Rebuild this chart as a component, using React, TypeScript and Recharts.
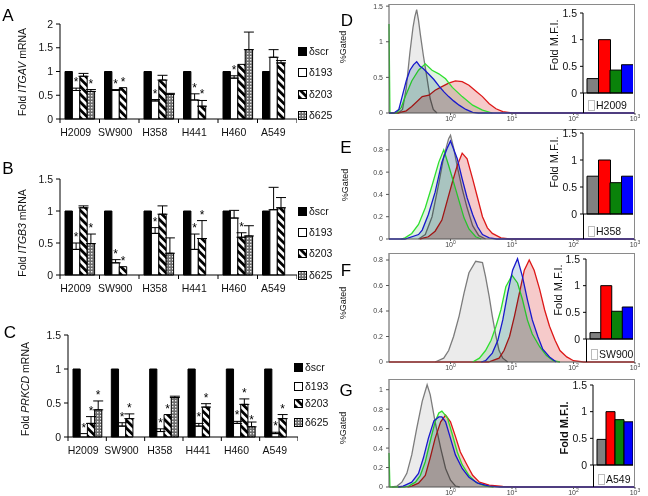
import React from 'react';
import {
  BarChart,
  Bar,
  XAxis,
  YAxis,
  ErrorBar,
  LabelList,
  Cell,
  AreaChart,
  Area,
} from 'recharts';

const FONT = '"Liberation Sans", Arial, sans-serif';

// ---- A–C : fold mRNA per cell line ----
const cellLines = ['H2009', 'SW900', 'H358', 'H441', 'H460', 'A549'];
const siNames = ['δscr', 'δ193', 'δ203', 'δ625'];

const itgavScr = [1, 1, 1, 1, 1, 1];
const itgav193 = [0.6, 0.6, 0.38, 0.4, 0.86, 1.3];
const itgav193Err = [0.05, 0.02, 0.03, 0.13, 0.05, 0.16];
const itgav203 = [0.9, 0.66, 0.82, 0.27, 1.15, 1.18];
const itgav203Err = [0.06, 0, 0.1, 0.12, 0, 0.05];
const itgav625 = [0.58, null, 0.52, null, 1.46, null];
const itgav625Err = [0.04, 0, 0.02, 0, 0.37, 0];
const itgavStar193 = [1, 1, 1, 1, 1, 0];
const itgavStar203 = [0, 1, 0, 1, 0, 0];
const itgavStar625 = [1, 0, 1, 0, 0, 0];

const itgb3Scr = [1, 1, 1, 1, 1, 1];
const itgb3193 = [0.4, 0.19, 0.65, 0.4, 0.89, 1.02];
const itgb3193Err = [0.1, 0.05, 0.09, 0.24, 0.12, 0.35];
const itgb3203 = [1.05, 0.13, 0.95, 0.57, 0.59, 1.05];
const itgb3203Err = [0.03, 0, 0.13, 0.28, 0.07, 0.16];
const itgb3625 = [0.49, null, 0.34, null, 0.61, null];
const itgb3625Err = [0.15, 0, 0.24, 0, 0.16, 0];
const itgb3Star193 = [1, 1, 1, 1, 0, 0];
const itgb3Star203 = [0, 1, 0, 1, 1, 0];
const itgb3Star625 = [1, 0, 1, 0, 0, 0];

const prkcdScr = [1, 1, 1, 1, 1, 1];
const prkcd193 = [0.05, 0.16, 0.08, 0.16, 0.2, 0.05];
const prkcd193Err = [0, 0.05, 0.04, 0.04, 0.03, 0.02];
const prkcd203 = [0.2, 0.27, 0.33, 0.44, 0.48, 0.27];
const prkcd203Err = [0.1, 0.07, 0, 0.05, 0.08, 0.06];
const prkcd625 = [0.4, null, 0.58, null, 0.15, null];
const prkcd625Err = [0.13, 0, 0.02, 0, 0.07, 0];
const prkcdStar193 = [1, 1, 1, 1, 1, 1];
const prkcdStar203 = [1, 1, 1, 1, 1, 1];
const prkcdStar625 = [1, 0, 1, 0, 1, 0];

// ---- D–G : flow histograms, [log10 intensity, %gated] ----
const h2009Gray = [[-1, 0], [-0.85, 0], [-0.78, 0.05], [-0.72, 0.35], [-0.66, 0.85], [-0.61, 1.2], [-0.58, 1.35], [-0.55, 1.45], [-0.52, 1.3], [-0.49, 1.1], [-0.44, 0.8], [-0.38, 0.48], [-0.33, 0.2], [-0.28, 0.05], [-0.22, 0]];
const h2009Red = [[-1, 0], [-0.85, 0], [-0.72, 0.03], [-0.63, 0.09], [-0.46, 0.23], [-0.35, 0.25], [-0.25, 0.32], [-0.14, 0.37], [-0.03, 0.42], [0.08, 0.45], [0.19, 0.44], [0.3, 0.39], [0.41, 0.31], [0.52, 0.23], [0.63, 0.13], [0.74, 0.06], [0.85, 0.02], [1.01, 0], [3, 0]];
const h2009Green = [[-1, 1.25], [-0.985, 0], [-0.88, 0], [-0.8, 0.08], [-0.74, 0.22], [-0.63, 0.45], [-0.52, 0.6], [-0.41, 0.69], [-0.3, 0.6], [-0.19, 0.55], [-0.08, 0.48], [0.03, 0.36], [0.19, 0.23], [0.36, 0.11], [0.52, 0.04], [0.68, 0]];
const h2009Blue = [[-1, 0], [-0.92, 0], [-0.84, 0.05], [-0.78, 0.25], [-0.72, 0.45], [-0.66, 0.6], [-0.6, 0.68], [-0.55, 0.72], [-0.5, 0.66], [-0.44, 0.62], [-0.36, 0.55], [-0.27, 0.47], [-0.19, 0.38], [-0.11, 0.3], [-0.03, 0.23], [0.05, 0.17], [0.14, 0.11], [0.25, 0.05], [0.36, 0.01], [0.45, 0], [3, 0]];

const h358Gray = [[-0.52, 0], [-0.41, 0.04], [-0.3, 0.2], [-0.19, 0.5], [-0.11, 0.74], [-0.03, 0.9], [0, 0.93], [0.05, 0.82], [0.11, 0.65], [0.19, 0.45], [0.27, 0.28], [0.36, 0.12], [0.46, 0.03], [0.57, 0]];
const h358Red = [[-0.5, 0], [-0.36, 0.02], [-0.25, 0.07], [-0.14, 0.17], [-0.055, 0.34], [0.03, 0.51], [0.11, 0.66], [0.19, 0.77], [0.27, 0.72], [0.36, 0.54], [0.44, 0.37], [0.52, 0.2], [0.6, 0.1], [0.68, 0.05], [0.82, 0.01], [0.96, 0], [3, 0]];
const h358Green = [[-0.8, 0], [-0.74, 0.01], [-0.63, 0.05], [-0.52, 0.13], [-0.41, 0.28], [-0.3, 0.48], [-0.19, 0.69], [-0.11, 0.8], [-0.03, 0.66], [0.05, 0.51], [0.14, 0.34], [0.22, 0.19], [0.3, 0.09], [0.41, 0.02], [0.5, 0]];
const h358Blue = [[-1, 0], [-0.74, 0], [-0.52, 0.04], [-0.46, 0.08], [-0.36, 0.22], [-0.25, 0.42], [-0.14, 0.69], [-0.05, 0.82], [0, 0.88], [0.11, 0.72], [0.19, 0.54], [0.27, 0.37], [0.36, 0.22], [0.44, 0.11], [0.52, 0.04], [0.63, 0.01], [0.75, 0], [3, 0]];

const sw900Gray = [[-0.25, 0], [-0.11, 0.03], [-0.03, 0.09], [0.05, 0.2], [0.14, 0.36], [0.22, 0.54], [0.3, 0.7], [0.41, 0.79], [0.52, 0.78], [0.57, 0.67], [0.63, 0.51], [0.68, 0.36], [0.74, 0.2], [0.79, 0.09], [0.85, 0.03], [0.93, 0]];
const sw900Red = [[-1, 0], [0.62, 0], [0.68, 0.01], [0.79, 0.03], [0.87, 0.09], [0.96, 0.2], [1.04, 0.36], [1.12, 0.54], [1.2, 0.72], [1.28, 0.8], [1.36, 0.72], [1.45, 0.57], [1.53, 0.41], [1.61, 0.28], [1.7, 0.17], [1.78, 0.09], [1.89, 0.04], [2.0, 0.01], [2.16, 0], [3, 0]];
const sw900Green = [[0.36, 0], [0.47, 0.03], [0.57, 0.09], [0.66, 0.17], [0.74, 0.28], [0.82, 0.41], [0.9, 0.59], [1.0, 0.68], [1.09, 0.62], [1.17, 0.49], [1.25, 0.33], [1.33, 0.22], [1.45, 0.12], [1.56, 0.05], [1.67, 0.01], [1.78, 0]];
const sw900Blue = [[0.5, 0], [0.57, 0.01], [0.68, 0.07], [0.77, 0.17], [0.85, 0.33], [0.93, 0.54], [1.01, 0.72], [1.09, 0.81], [1.17, 0.67], [1.25, 0.49], [1.33, 0.33], [1.42, 0.2], [1.5, 0.1], [1.61, 0.04], [1.72, 0]];

const a549Gray = [[-0.95, 0], [-0.87, 0.01], [-0.79, 0.05], [-0.71, 0.14], [-0.63, 0.33], [-0.55, 0.6], [-0.46, 0.88], [-0.38, 1.05], [-0.33, 0.95], [-0.25, 0.67], [-0.16, 0.4], [-0.08, 0.19], [0, 0.07], [0.08, 0.01], [0.15, 0]];
const a549Red = [[-0.7, 0], [-0.63, 0.01], [-0.52, 0.04], [-0.41, 0.12], [-0.33, 0.3], [-0.25, 0.5], [-0.16, 0.67], [-0.08, 0.74], [0, 0.67], [0.08, 0.52], [0.16, 0.36], [0.25, 0.25], [0.36, 0.12], [0.47, 0.05], [0.63, 0.02], [0.85, 0.005], [1.1, 0], [3, 0]];
const a549Green = [[-1, 0.35], [-0.985, 0], [-0.75, 0], [-0.68, 0.01], [-0.57, 0.05], [-0.49, 0.12], [-0.41, 0.26], [-0.33, 0.47], [-0.25, 0.67], [-0.19, 0.76], [-0.14, 0.78], [-0.05, 0.71], [0.03, 0.54], [0.11, 0.36], [0.19, 0.23], [0.3, 0.12], [0.41, 0.05], [0.57, 0.01], [0.7, 0]];
const a549Blue = [[-0.85, 0], [-0.77, 0.01], [-0.63, 0.05], [-0.52, 0.14], [-0.44, 0.3], [-0.36, 0.5], [-0.27, 0.68], [-0.19, 0.72], [-0.14, 0.72], [-0.08, 0.67], [0, 0.5], [0.08, 0.33], [0.19, 0.19], [0.3, 0.1], [0.44, 0.04], [0.63, 0.01], [0.8, 0], [3, 0]];

// inset fold M.F.I.: control, scr, 193, 203
const mfiKeys = ['ctrl', 'scr', 's193', 's203'];
const mfiColors = ['#808080', '#ff0000', '#0a820a', '#0000ff'];
const mfiH2009 = [0.27, 1.0, 0.43, 0.53];
const mfiH358 = [0.7, 1.0, 0.58, 0.7];
const mfiSW900 = [0.12, 1.0, 0.52, 0.6];
const mfiA549 = [0.48, 1.0, 0.85, 0.81];

const siFills = ['#000', '#fff', 'url(#stripe203)', 'url(#dots625)'];

function makeRows(scr: any[], v193: any[], e193: any[], v203: any[], e203: any[], v625: any[], e625: any[], s193: any[], s203: any[], s625: any[]) {
  return cellLines.map((cell, i) => ({
    cell,
    scr: scr[i],
    v193: v193[i],
    v203: v203[i],
    v625: v625[i],
    e193: v193[i] != null && e193[i] ? [0, e193[i]] : undefined,
    e203: v203[i] != null && e203[i] ? [0, e203[i]] : undefined,
    e625: v625[i] != null && e625[i] ? [0, e625[i]] : undefined,
    s193: s193[i],
    s203: s203[i],
    s625: s625[i],
  }));
}

function starContent(vals: any[], errs: any[]) {
  return (props: any) => {
    const vb = props.viewBox ?? props;
    const { x, y, width, height } = vb;
    const i = props.index;
    const v = vals[i];
    if (!props.value || !v || height == null) return null;
    const ppu = Math.abs(height) / v;
    const top = Math.min(y, y + height) - (errs[i] || 0) * ppu;
    return (
      <text x={x + width / 2} y={top - 2} textAnchor="middle" fontSize={12} fontFamily={FONT} fill="#000">
        *
      </text>
    );
  };
}

const CellTick = (props: any) => {
  const { x, y, payload, index, visibleTicksCount } = props;
  const half = payload?.offset ?? 0;
  return (
    <g>
      <text x={x - 4} y={y + 17} textAnchor="middle" fontSize={10.5} fontFamily={FONT} fill="#111">
        {payload.value}
      </text>
      {half ? <line x1={x - half} x2={x - half} y1={y} y2={y + 4} stroke="#000" /> : null}
      {half && index === visibleTicksCount - 1 ? (
        <line x1={x + half} x2={x + half} y1={y} y2={y + 4} stroke="#000" />
      ) : null}
    </g>
  );
};

function VLabel({ x, y, size = 10.5, bold = false, family = FONT, children }: any) {
  return (
    <div
      style={{
        position: 'absolute',
        left: x,
        top: y,
        transform: 'translate(-50%, -50%) rotate(-90deg)',
        whiteSpace: 'nowrap',
        fontFamily: family,
        fontSize: size,
        fontWeight: bold ? 'bold' : 'normal',
        color: '#111',
        lineHeight: 1,
      }}
    >
      {children}
    </div>
  );
}

function Letter({ x, y, text }: any) {
  return (
    <div style={{ position: 'absolute', left: x, top: y, transform: 'translate(-50%, -50%)', fontFamily: FONT, fontSize: 17, lineHeight: 1, color: '#000' }}>
      {text}
    </div>
  );
}

function SiLegend({ x, ys }: any) {
  return (
    <>
      {siNames.map((name, i) => (
        <div key={name} style={{ position: 'absolute', left: x, top: ys[i] - 6, height: 12, display: 'flex', alignItems: 'center', fontFamily: FONT, fontSize: 10.5, color: '#111' }}>
          <svg width={9} height={9} style={{ marginRight: 2 }}>
            <rect x={0.5} y={0.5} width={8} height={8} fill={siFills[i]} stroke="#000" />
          </svg>
          {name}
        </div>
      ))}
    </>
  );
}

function FoldChart({ rows, axisX, plotTop, plotBottom, plotRight, yMax, yTicks, vals, errs, barSize }: any) {
  const yw = 40;
  const mt = 8;
  return (
    <div style={{ position: 'absolute', left: 0, top: plotTop - mt }}>
      <BarChart
        width={plotRight}
        height={plotBottom - plotTop + mt + 26}
        data={rows}
        margin={{ top: mt, right: 0, left: axisX - yw, bottom: 0 }}
        barGap={0}
        barSize={barSize}
      >
        <XAxis dataKey="cell" interval={0} tickLine={false} tickSize={0} tickMargin={0} axisLine={{ stroke: '#000' }} tick={<CellTick />} height={26} />
        <YAxis
          domain={[0, yMax]}
          ticks={yTicks}
          interval={0}
          width={yw}
          tickSize={4}
          tickMargin={3}
          axisLine={{ stroke: '#000' }}
          tickLine={{ stroke: '#000' }}
          tick={{ fontSize: 10.5, fill: '#111', fontFamily: FONT }}
        />
        <Bar dataKey="scr" fill="#000" stroke="#000" strokeWidth={1} isAnimationActive={false} />
        <Bar dataKey="v193" fill="#fff" stroke="#000" strokeWidth={1} isAnimationActive={false}>
          <ErrorBar dataKey="e193" width={5} stroke="#000" strokeWidth={1} direction="y" />
          <LabelList dataKey="s193" content={starContent(vals[0], errs[0])} />
        </Bar>
        <Bar dataKey="v203" fill="url(#stripe203)" stroke="#000" strokeWidth={1} isAnimationActive={false}>
          <ErrorBar dataKey="e203" width={5} stroke="#000" strokeWidth={1} direction="y" />
          <LabelList dataKey="s203" content={starContent(vals[1], errs[1])} />
        </Bar>
        <Bar dataKey="v625" fill="url(#dots625)" stroke="#000" strokeWidth={1} isAnimationActive={false}>
          <ErrorBar dataKey="e625" width={5} stroke="#000" strokeWidth={1} direction="y" />
          <LabelList dataKey="s625" content={starContent(vals[2], errs[2])} />
        </Bar>
      </BarChart>
    </div>
  );
}

function mergeCurves(curves: Record<string, number[][]>) {
  const byX = new Map<number, any>();
  Object.entries(curves).forEach(([key, pts]) => {
    pts.forEach(([x, v]) => {
      const row = byX.get(x) ?? { x };
      row[key] = v;
      byX.set(x, row);
    });
  });
  return [...byX.values()].sort((a, b) => a.x - b.x);
}

const PowTick = (props: any) => {
  const { x, y, payload } = props;
  return (
    <text x={x} y={y + 6} textAnchor="middle" fontSize={7} fontFamily={FONT} fill="#444">
      10
      <tspan dy={-3} fontSize={5}>
        {payload.value}
      </tspan>
    </text>
  );
};

const curveStyle: Record<string, { stroke: string; fill: string }> = {
  gray: { stroke: '#7c7c7c', fill: '#ebebeb' },
  red: { stroke: '#dd1818', fill: '#f6caca' },
  green: { stroke: '#2ee02e', fill: '#e0f2e0' },
  blue: { stroke: '#1818cc', fill: '#d2e0ee' },
};
const curveOrder = ['gray', 'red', 'green', 'blue'];

function FlowChart({ plotTop, plotBottom, yMax, yTicks, curves }: any) {
  const rows = mergeCurves(curves);
  const mt = 4;
  return (
    <div className="flow" style={{ position: 'absolute', left: 350, top: plotTop - mt }}>
      <AreaChart width={290} height={plotBottom - plotTop + mt + 14} data={rows} margin={{ top: mt, right: 5, left: 0, bottom: 0 }}>
        <XAxis
          type="number"
          dataKey="x"
          domain={[-1, 3]}
          ticks={[0, 1, 2, 3]}
          tick={<PowTick />}
          tickSize={2}
          tickMargin={0}
          height={14}
          axisLine={{ stroke: '#555' }}
          tickLine={{ stroke: '#555' }}
        />
        <YAxis
          domain={[0, yMax]}
          ticks={yTicks}
          interval={0}
          width={39}
          tickSize={3}
          tickMargin={3}
          axisLine={{ stroke: '#555' }}
          tickLine={{ stroke: '#555' }}
          tick={{ fontSize: 7, fill: '#444', fontFamily: FONT }}
        />
        {curveOrder.map((k) => (
          <Area
            key={k}
            type="linear"
            dataKey={k}
            stroke={curveStyle[k].stroke}
            strokeWidth={1.3}
            fill={curveStyle[k].fill}
            fillOpacity={1}
            connectNulls
            dot={false}
            activeDot={false}
            isAnimationActive={false}
          />
        ))}
      </AreaChart>
      <div
        style={{
          position: 'absolute',
          left: 39,
          top: mt,
          width: 246,
          height: plotBottom - plotTop,
          border: '1px solid #8a8a8a',
          borderLeft: 'none',
          borderBottom: 'none',
          boxSizing: 'border-box',
          pointerEvents: 'none',
        }}
      />
    </div>
  );
}

function Inset({ values, axisX, top, zero, bottom, name, labelX, labelY, bold }: any) {
  const rows = mfiKeys.map((k, i) => ({ k, v: values[i] }));
  const yw = 30;
  const left = axisX - yw;
  const mt = 9;
  const xh = 8;
  return (
    <>
      <div style={{ position: 'absolute', left, top: top - mt }}>
        <BarChart width={633 - left} height={zero - top + mt + xh} data={rows} margin={{ top: mt, right: 0, left: 0, bottom: 0 }} barCategoryGap={0} barGap={0}>
          <XAxis dataKey="k" tick={false} tickLine={false} axisLine={{ stroke: '#000' }} height={xh} padding={{ left: 4, right: 0 }} />
          <YAxis
            domain={[0, 1.5]}
            ticks={[0, 0.5, 1, 1.5]}
            interval={0}
            width={yw}
            tickSize={3}
            tickMargin={3}
            axisLine={{ stroke: '#000' }}
            tickLine={{ stroke: '#000' }}
            tick={{ fontSize: 10.5, fill: '#111', fontFamily: FONT }}
          />
          <Bar dataKey="v" stroke="#000" strokeWidth={1} isAnimationActive={false}>
            {rows.map((r, i) => (
              <Cell key={r.k} fill={mfiColors[i]} />
            ))}
          </Bar>
        </BarChart>
      </div>
      <div style={{ position: 'absolute', left: axisX, top: zero, width: 1, height: bottom - zero, background: '#000' }} />
      <div style={{ position: 'absolute', left: axisX + 5, top: bottom - 14, height: 12, display: 'flex', alignItems: 'center', fontFamily: FONT, fontSize: 10.5, color: '#111' }}>
        <span style={{ display: 'inline-block', width: 5, height: 9, border: '1px solid #bbb', marginRight: 1 }} />
        {name}
      </div>
      <VLabel x={labelX} y={labelY} size={11} bold={bold}>
        Fold M.F.I.
      </VLabel>
    </>
  );
}

const rowsA = makeRows(itgavScr, itgav193, itgav193Err, itgav203, itgav203Err, itgav625, itgav625Err, itgavStar193, itgavStar203, itgavStar625);
const rowsB = makeRows(itgb3Scr, itgb3193, itgb3193Err, itgb3203, itgb3203Err, itgb3625, itgb3625Err, itgb3Star193, itgb3Star203, itgb3Star625);
const rowsC = makeRows(prkcdScr, prkcd193, prkcd193Err, prkcd203, prkcd203Err, prkcd625, prkcd625Err, prkcdStar193, prkcdStar203, prkcdStar625);

const GATED_FONT = '"Liberation Sans Narrow", "Liberation Sans", sans-serif';

export default function App() {
  return (
    <div style={{ position: 'absolute', left: 0, top: 0, width: 648, height: 496, background: '#fff', overflow: 'hidden' }}>
      <style>{'.flow path.recharts-area-area { mix-blend-mode: multiply; }'}</style>
      <svg width={0} height={0} style={{ position: 'absolute' }}>
        <defs>
          <pattern id="stripe203" patternUnits="userSpaceOnUse" width={5.5} height={5.5} patternTransform="rotate(-45)">
            <rect width={5.5} height={5.5} fill="#fff" />
            <rect width={2.8} height={5.5} fill="#000" />
          </pattern>
          <pattern id="dots625" patternUnits="userSpaceOnUse" width={3} height={3}>
            <rect width={3} height={3} fill="#6e6e6e" />
            <rect x={1} y={1} width={1.4} height={1.4} fill="#f0f0f0" />
          </pattern>
        </defs>
      </svg>

      {/* A */}
      <Letter x={8} y={15} text="A" />
      <VLabel x={22} y={72}>
        Fold <i>ITGAV</i> mRNA
      </VLabel>
      <FoldChart rows={rowsA} axisX={60} plotTop={24} plotBottom={119} plotRight={297} yMax={2} yTicks={[0, 0.5, 1, 1.5, 2]}
        vals={[itgav193, itgav203, itgav625]} errs={[itgav193Err, itgav203Err, itgav625Err]} barSize={7.4} />
      <SiLegend x={298} ys={[51, 72, 94, 115]} />

      {/* B */}
      <Letter x={8} y={168} text="B" />
      <VLabel x={22} y={233}>
        Fold <i>ITGB3</i> mRNA
      </VLabel>
      <FoldChart rows={rowsB} axisX={60} plotTop={179} plotBottom={275} plotRight={297} yMax={1.5} yTicks={[0, 0.5, 1, 1.5]}
        vals={[itgb3193, itgb3203, itgb3625]} errs={[itgb3193Err, itgb3203Err, itgb3625Err]} barSize={7.4} />
      <SiLegend x={298} ys={[211, 232, 253, 275]} />

      {/* C */}
      <Letter x={10} y={332} text="C" />
      <VLabel x={25} y={389}>
        Fold <i>PRKCD</i> mRNA
      </VLabel>
      <FoldChart rows={rowsC} axisX={68} plotTop={335} plotBottom={437} plotRight={298} yMax={1.5} yTicks={[0, 0.5, 1, 1.5]}
        vals={[prkcd193, prkcd203, prkcd625]} errs={[prkcd193Err, prkcd203Err, prkcd625Err]} barSize={7.2} />
      <SiLegend x={294} ys={[367, 386, 403, 422]} />

      {/* D */}
      <Letter x={347} y={20} text="D" />
      <VLabel x={343} y={47} size={9} family={GATED_FONT}>%Gated</VLabel>
      <FlowChart plotTop={4} plotBottom={113} yMax={1.53} yTicks={[0, 0.5, 1, 1.5]}
        curves={{ gray: h2009Gray, red: h2009Red, green: h2009Green, blue: h2009Blue }} />
      <Inset values={mfiH2009} axisX={583} top={13} zero={93} bottom={113} name="H2009" labelX={554} labelY={45} />

      {/* E */}
      <Letter x={346} y={147} text="E" />
      <VLabel x={345} y={185} size={9} family={GATED_FONT}>%Gated</VLabel>
      <FlowChart plotTop={129} plotBottom={239} yMax={0.987} yTicks={[0, 0.2, 0.4, 0.6, 0.8]}
        curves={{ gray: h358Gray, red: h358Red, green: h358Green, blue: h358Blue }} />
      <Inset values={mfiH358} axisX={583} top={133} zero={214} bottom={239} name="H358" labelX={554} labelY={162} />

      {/* F */}
      <Letter x={346} y={270} text="F" />
      <VLabel x={343} y={303} size={9} family={GATED_FONT}>%Gated</VLabel>
      <FlowChart plotTop={253} plotBottom={362} yMax={0.855} yTicks={[0, 0.2, 0.4, 0.6, 0.8]}
        curves={{ gray: sw900Gray, red: sw900Red, green: sw900Green, blue: sw900Blue }} />
      <Inset values={mfiSW900} axisX={586} top={259} zero={339} bottom={362} name="SW900" labelX={558} labelY={290} />

      {/* G */}
      <Letter x={346} y={390} text="G" />
      <VLabel x={343} y={428} size={9} family={GATED_FONT}>%Gated</VLabel>
      <FlowChart plotTop={379} plotBottom={487} yMax={1.11} yTicks={[0, 0.2, 0.4, 0.6, 0.8, 1]}
        curves={{ gray: a549Gray, red: a549Red, green: a549Green, blue: a549Blue }} />
      <Inset values={mfiA549} axisX={593} top={385} zero={465} bottom={487} name="A549" labelX={564} labelY={428} bold />
    </div>
  );
}
